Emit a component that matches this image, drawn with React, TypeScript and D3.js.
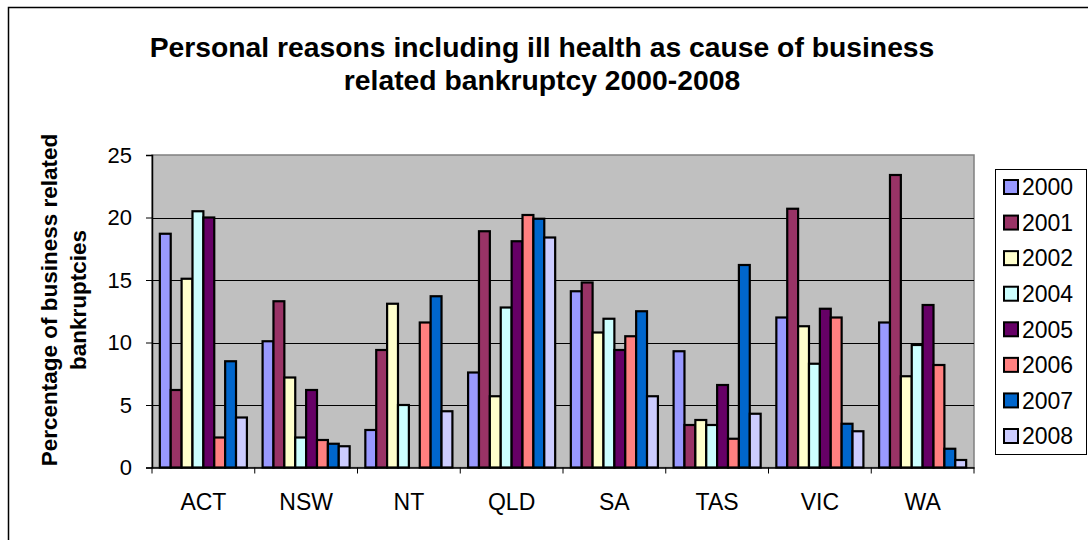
import React, { useEffect, useRef } from "react";
import * as d3 from "d3";

const states = ["ACT", "NSW", "NT", "QLD", "SA", "TAS", "VIC", "WA"];
const years = ["2000", "2001", "2002", "2004", "2005", "2006", "2007", "2008"];
const colors = ["#9999FF", "#993366", "#FFFFCC", "#CCFFFF", "#660066", "#FF8080", "#0066CC", "#CCCCFF"];

// one array per year, values in state order
const v2000 = [18.7, 10.1, 3.0, 7.6, 14.1, 9.3, 12.0, 11.6];
const v2001 = [6.2, 13.3, 9.4, 18.9, 14.8, 3.4, 20.7, 23.4];
const v2002 = [15.1, 7.2, 13.1, 5.7, 10.8, 3.8, 11.3, 7.3];
const v2004 = [20.5, 2.4, 5.0, 12.8, 11.9, 3.4, 8.3, 9.8];
const v2005 = [20.0, 6.2, 0, 18.1, 9.4, 6.6, 12.7, 13.0];
const v2006 = [2.4, 2.2, 11.6, 20.2, 10.5, 2.3, 12.0, 8.2];
const v2007 = [8.5, 1.9, 13.7, 19.9, 12.5, 16.2, 3.5, 1.5];
const v2008 = [4.0, 1.7, 4.5, 18.4, 5.7, 4.3, 2.9, 0.6];

const series = [v2000, v2001, v2002, v2004, v2005, v2006, v2007, v2008];
const yTicks = [0, 5, 10, 15, 20, 25];

const title1 = "Personal reasons including ill health as cause of business";
const title2 = "related bankruptcy 2000-2008";
const yTitle1 = "Percentage of business related";
const yTitle2 = "bankruptcies";

const App: React.FC = () => {
  const svgRef = useRef<SVGSVGElement | null>(null);

  useEffect(() => {
    const width = 1088;
    const height = 540;
    const plot = { left: 152, right: 974, top: 155, bottom: 467.5 };
    const font = "'Liberation Sans', Arial, sans-serif";

    const svg = d3.select(svgRef.current).attr("width", width).attr("height", height);
    svg.selectAll("*").remove();

    svg.append("rect").attr("width", width).attr("height", height).attr("fill", "#fff");

    // chart frame (right and bottom edges fall outside the picture)
    svg
      .append("path")
      .attr("d", `M8.5,${height + 5}V7.5H${width + 5}`)
      .attr("fill", "none")
      .attr("stroke", "#000")
      .attr("stroke-width", 1.5);

    const x0 = d3.scaleBand<string>().domain(states).range([plot.left, plot.right]);
    const x1 = d3
      .scaleBand<string>()
      .domain(years)
      .range([0, x0.bandwidth()])
      .paddingOuter(0.72);
    const y = d3.scaleLinear().domain([0, 25]).range([plot.bottom, plot.top]);

    svg
      .append("rect")
      .attr("x", plot.left)
      .attr("y", plot.top)
      .attr("width", plot.right - plot.left)
      .attr("height", plot.bottom - plot.top)
      .attr("fill", "#C0C0C0")
      .attr("stroke", "#808080")
      .attr("stroke-width", 1.5);

    // gridlines
    svg
      .append("g")
      .selectAll("line")
      .data(yTicks.filter((t) => t > 0 && t < 25))
      .join("line")
      .attr("x1", plot.left)
      .attr("x2", plot.right)
      .attr("y1", (d) => Math.round(y(d)) + 0.5)
      .attr("y2", (d) => Math.round(y(d)) + 0.5)
      .attr("stroke", "#000")
      .attr("stroke-width", 1);

    // bars
    const groups = svg
      .append("g")
      .selectAll("g")
      .data(series)
      .join("g")
      .attr("fill", (_, i) => colors[i]);

    groups
      .selectAll("rect")
      .data((vals, i) => vals.map((v, j) => ({ v, state: states[j], year: years[i] })))
      .join("rect")
      .filter((d) => d.v > 0)
      .attr("x", (d) => (x0(d.state) as number) + (x1(d.year) as number))
      .attr("y", (d) => y(d.v))
      .attr("width", x1.bandwidth())
      .attr("height", (d) => y(0) - y(d.v))
      .attr("stroke", "#000")
      .attr("stroke-width", 2.2);

    // y axis
    const yAxis = svg
      .append("g")
      .attr("transform", `translate(${plot.left},0)`)
      .call(d3.axisLeft(y).tickValues(yTicks).tickSize(6).tickPadding(14));
    yAxis.select(".domain").attr("stroke", "#000").attr("stroke-width", 1.5);
    yAxis.selectAll(".tick line").attr("stroke", "#000");
    yAxis
      .selectAll(".tick text")
      .attr("font-family", font)
      .attr("font-size", 22)
      .attr("fill", "#000");

    // x axis
    const xAxis = svg
      .append("g")
      .attr("transform", `translate(0,${plot.bottom})`)
      .call(d3.axisBottom(x0).tickSize(0).tickPadding(26));
    xAxis.select(".domain").attr("stroke", "#000").attr("stroke-width", 1.5);
    xAxis
      .selectAll(".tick text")
      .attr("font-family", font)
      .attr("font-size", 23)
      .attr("fill", "#000");
    svg
      .append("g")
      .selectAll("line")
      .data(states.map((s) => x0(s) as number).concat([plot.right]))
      .join("line")
      .attr("x1", (d) => d)
      .attr("x2", (d) => d)
      .attr("y1", plot.bottom)
      .attr("y2", plot.bottom + 6)
      .attr("stroke", "#000");

    // titles
    const title = svg
      .append("text")
      .attr("text-anchor", "middle")
      .attr("font-family", font)
      .attr("font-weight", "bold")
      .attr("font-size", 28.3)
      .attr("fill", "#000");
    title.append("tspan").attr("x", 542).attr("y", 57).text(title1);
    title.append("tspan").attr("x", 542).attr("y", 90).text(title2);

    const yTitle = svg
      .append("text")
      .attr("text-anchor", "middle")
      .attr("transform", "translate(0,300) rotate(-90)")
      .attr("font-family", font)
      .attr("font-weight", "bold")
      .attr("font-size", 22.5)
      .attr("fill", "#000");
    yTitle.append("tspan").attr("x", 0).attr("y", 57).text(yTitle1);
    yTitle.append("tspan").attr("x", 0).attr("y", 86).text(yTitle2);

    // legend
    const legend = svg.append("g");
    legend
      .append("rect")
      .attr("x", 995.5)
      .attr("y", 169.5)
      .attr("width", 91)
      .attr("height", 285)
      .attr("fill", "#fff")
      .attr("stroke", "#000");
    const rowY = d3.scalePoint<string>().domain(years).range([187, 436]);
    const items = legend
      .selectAll("g.item")
      .data(years)
      .join("g")
      .attr("class", "item")
      .attr("transform", (d) => `translate(0,${rowY(d)})`);
    items
      .append("rect")
      .attr("x", 1004)
      .attr("y", -7)
      .attr("width", 14)
      .attr("height", 14)
      .attr("fill", (_, i) => colors[i])
      .attr("stroke", "#000")
      .attr("stroke-width", 2);
    items
      .append("text")
      .attr("x", 1022)
      .attr("dy", "0.36em")
      .attr("font-family", font)
      .attr("font-size", 23)
      .attr("fill", "#000")
      .text((d) => d);
  }, []);

  return (
    <div style={{ position: "absolute", left: 0, top: 0 }}>
      <svg ref={svgRef} style={{ display: "block" }} />
    </div>
  );
};

export default App;
